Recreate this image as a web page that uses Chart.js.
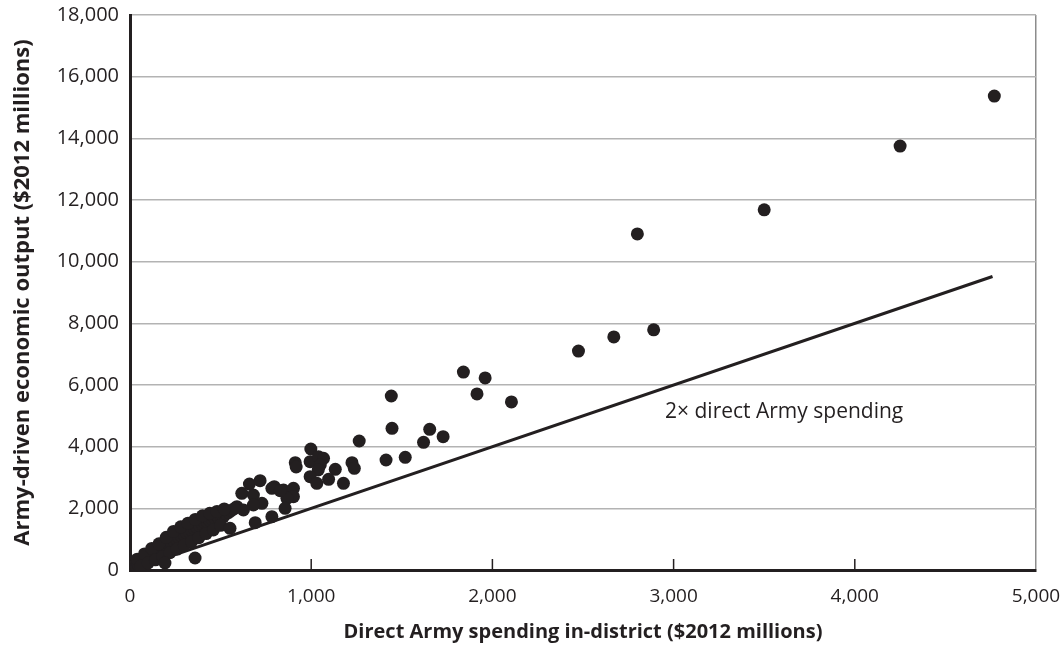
<!DOCTYPE html>
<html>
<head>
<meta charset="utf-8">
<script src="https://cdn.jsdelivr.net/npm/chart.js@4.4.1/dist/chart.umd.min.js"></script>
<style>
  html, body { margin: 0; padding: 0; background: #fff; }
  #wrap { width: 1060px; height: 652px; }
</style>
</head>
<body>
<div id="wrap"><canvas id="armyChart" width="1060" height="652"></canvas></div>
<script>
// ---------------- DATA ----------------
const xTicks = [0, 1000, 2000, 3000, 4000, 5000];
const yTicks = [0, 2000, 4000, 6000, 8000, 10000, 12000, 14000, 16000, 18000];

// districts: [direct spending, army-driven output] in $2012 millions
const bigDistricts = [
  [4770, 15370], [4250, 13750], [3500, 11680], [2800, 10900], [2890, 7790],
  [2670, 7560], [2475, 7100], [2105, 5450], [1960, 6230], [1915, 5710], [1840, 6420]
];

const midDistricts = [
  [1442, 5643], [1446, 4596], [1265, 4184], [1654, 4563], [1728, 4323], [1620, 4142],
  [1413, 3568], [1519, 3655], [1225, 3480], [1238, 3298], [1133, 3266], [998, 3924],
  [912, 3480], [917, 3340], [994, 3512], [1040, 3675], [1068, 3623], [1050, 3405],
  [1039, 3243], [994, 3026], [1031, 2812], [1096, 2942], [1178, 2812], [796, 2702],
  [847, 2595], [902, 2650], [902, 2377], [866, 2325], [856, 2001], [659, 2789],
  [718, 2896], [783, 2650], [829, 2572], [617, 2488], [681, 2432], [728, 2163],
  [681, 2108], [590, 2053], [626, 1946], [783, 1729], [691, 1534]
];

const smallDistricts = [
  [0, 0], [8, 40], [15, 110], [22, 20], [28, 180], [35, 90], [42, 240], [48, 150],
  [55, 310], [62, 200], [70, 360], [76, 260], [84, 420], [90, 310], [98, 480], [104, 360],
  [112, 540], [118, 410], [126, 600], [132, 470], [140, 660], [146, 520], [154, 720], [160, 580],
  [168, 790], [174, 640], [182, 850], [188, 700], [196, 910], [202, 760], [210, 960], [216, 820],
  [224, 1020], [230, 870], [238, 1080], [244, 930], [252, 1130], [258, 990], [266, 1180], [272, 1040],
  [280, 1230], [286, 1090], [294, 1280], [300, 1140], [308, 1330], [314, 1190], [322, 1380], [328, 1240],
  [336, 1430], [342, 1290], [350, 1480], [356, 1340], [364, 1530], [370, 1390], [378, 1580], [384, 1440],
  [392, 1620], [398, 1490], [406, 1650], [412, 1540], [420, 1680], [426, 1580], [434, 1700], [440, 1610],
  [448, 1720], [454, 1640], [462, 1740], [470, 1660], [480, 1760], [490, 1690], [500, 1790], [515, 1720],
  [530, 1820], [545, 1870], [560, 1930], [575, 1990],
  [40, 350], [80, 520], [120, 700], [160, 850], [200, 1060], [240, 1250], [280, 1400], [320, 1520],
  [360, 1640], [400, 1760], [440, 1840], [480, 1900], [520, 1980],
  [60, 130], [100, 230], [140, 330], [180, 430], [220, 560], [260, 680], [300, 800], [340, 920],
  [380, 1050], [420, 1180], [460, 1300], [500, 1450],
  [193, 227], [359, 389], [552, 1352]
];

// reference line: output = 2 x direct spending
const lineSpend = [0, 4760];
const lineOutput = [0, 9520];
const lineLabel = "2\u00d7 direct Army spending";
const lineLabelAt = [3610, 5125];

const xTitle = "Direct Army spending in-district ($2012 millions)";
const yTitle = "Army-driven economic output ($2012 millions)";

// ---------------- CHART ----------------
const ink = "#231f20";
const fontFamily = "'Open Sans', 'Noto Sans', sans-serif";

const allDistricts = [...bigDistricts, ...midDistricts, ...smallDistricts];

// short tick marks pointing up from the x axis + the line label
const extrasPlugin = {
  id: "extras",
  afterDatasetsDraw(chart) {
    const ctx = chart.ctx;
    const xs = chart.scales.x;
    const ys = chart.scales.y;
    const bottom = ys.getPixelForValue(0);

    ctx.save();
    ctx.strokeStyle = ink;
    ctx.lineWidth = 1.5;
    xTicks.forEach(v => {
      if (v === 0 || v === 5000) return;
      const px = xs.getPixelForValue(v);
      ctx.beginPath();
      ctx.moveTo(px, bottom);
      ctx.lineTo(px, bottom - 11);
      ctx.stroke();
    });

    ctx.fillStyle = ink;
    ctx.font = "21px " + fontFamily;
    ctx.textAlign = "center";
    ctx.textBaseline = "middle";
    ctx.fillText(lineLabel, xs.getPixelForValue(lineLabelAt[0]), ys.getPixelForValue(lineLabelAt[1]));
    ctx.restore();
  }
};

new Chart(document.getElementById("armyChart").getContext("2d"), {
  type: "scatter",
  data: {
    datasets: [
      {
        type: "line",
        data: lineSpend.map((x, i) => ({ x: x, y: lineOutput[i] })),
        borderColor: ink,
        borderWidth: 3,
        pointRadius: 0,
        fill: false,
        order: 2
      },
      {
        data: allDistricts.map(d => ({ x: d[0], y: d[1] })),
        backgroundColor: ink,
        borderWidth: 0,
        pointRadius: 6.5,
        order: 1
      }
    ]
  },
  options: {
    responsive: false,
    animation: false,
    layout: { padding: { left: 0, top: 15, right: 24, bottom: 0 } },
    plugins: { legend: { display: false }, tooltip: { enabled: false } },
    scales: {
      x: {
        type: "linear",
        min: 0,
        max: 5000,
        afterBuildTicks: s => { s.ticks = xTicks.map(v => ({ value: v })); },
        afterFit: s => { s.height = 82; s.paddingLeft = 0; s.paddingRight = 0; },
        ticks: {
          color: ink,
          padding: 15,
          font: { family: fontFamily, size: 19 },
          callback: v => v.toLocaleString("en-US")
        },
        grid: {
          drawTicks: false,
          lineWidth: 1.5,
          color: c => (c.tick && c.tick.value === 5000 ? "#8c8c8c" : "rgba(0,0,0,0)")
        },
        border: { color: ink, width: 3 },
        title: {
          display: true,
          text: xTitle,
          color: ink,
          font: { family: fontFamily, size: 20, weight: "bold" },
          padding: { top: 0, bottom: 8 }
        }
      },
      y: {
        type: "linear",
        min: 0,
        max: 18000,
        afterBuildTicks: s => { s.ticks = yTicks.map(v => ({ value: v })); },
        afterFit: s => { s.width = 130; s.paddingTop = 0; s.paddingBottom = 0; },
        ticks: {
          color: ink,
          padding: 11,
          font: { family: fontFamily, size: 20 },
          callback: v => v.toLocaleString("en-US")
        },
        grid: { drawTicks: false, color: "#b3b3b3", lineWidth: 1.5 },
        border: { color: ink, width: 3 },
        title: {
          display: true,
          text: yTitle,
          color: ink,
          font: { family: fontFamily, size: 22, weight: "bold" },
          padding: { top: 10, bottom: 0 }
        }
      }
    }
  },
  plugins: [extrasPlugin]
});
</script>
</body>
</html>
